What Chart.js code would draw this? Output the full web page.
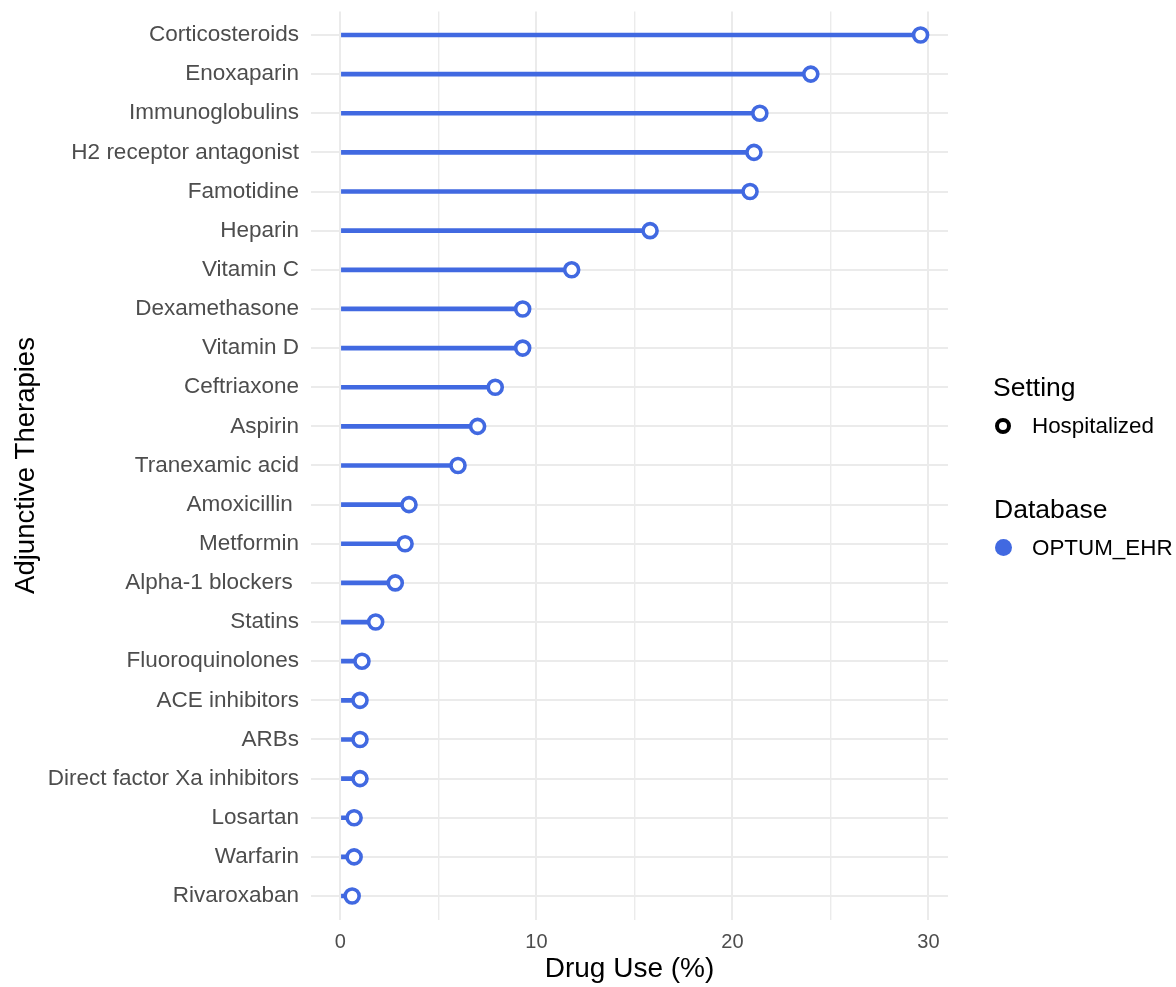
<!DOCTYPE html>
<html>
<head>
<meta charset="utf-8">
<script src="https://cdn.jsdelivr.net/npm/chart.js@4.4.1/dist/chart.umd.min.js"></script>
<style>
  html, body { margin: 0; padding: 0; background: #fff; }
  #wrap { position: relative; width: 1176px; height: 987px; }
  canvas { position: absolute; left: 0; top: 0; }
  .lg { position: absolute; font-family: "Liberation Sans", Arial, sans-serif; color: #000; white-space: nowrap; line-height: 1; }
  .lt { font-size: 26.5px; }
  .li { font-size: 22.4px; }
  .dot { position: absolute; box-sizing: border-box; border-radius: 50%; }
</style>
</head>
<body>
<div id="wrap">
  <canvas id="c" width="1176" height="987"></canvas>
  <div class="lg lt" style="left:993px; top:374px;">Setting</div>
  <div class="dot" style="left:995px; top:418px; width:16px; height:16px; border:4px solid #000; background:#fff;"></div>
  <div class="lg li" style="left:1032px; top:415px;">Hospitalized</div>
  <div class="lg lt" style="left:994px; top:496px;">Database</div>
  <div class="dot" style="left:995px; top:539px; width:17px; height:17px; background:#4169E1;"></div>
  <div class="lg li" style="left:1032px; top:537px;">OPTUM_EHR</div>
</div>
<script>
const categories = [
  "Corticosteroids", "Enoxaparin", "Immunoglobulins", "H2 receptor antagonist",
  "Famotidine", "Heparin", "Vitamin C", "Dexamethasone", "Vitamin D",
  "Ceftriaxone", "Aspirin", "Tranexamic acid", "Amoxicillin ", "Metformin",
  "Alpha-1 blockers ", "Statins", "Fluoroquinolones", "ACE inhibitors", "ARBs",
  "Direct factor Xa inhibitors", "Losartan", "Warfarin", "Rivaroxaban"
];
const drugUse = [
  29.6, 24.0, 21.4, 21.1,
  20.9, 15.8, 11.8, 9.3, 9.3,
  7.9, 7.0, 6.0, 3.5, 3.3,
  2.8, 1.8, 1.1, 1.0, 1.0,
  1.0, 0.7, 0.7, 0.6
];
const xTickValues = [0, 5, 10, 15, 20, 25, 30];
const xTickLabels = ["0", "", "10", "", "20", "", "30"];

const BLUE = "#4169E1";
const FONT = '"Liberation Sans", Arial, sans-serif';

new Chart(document.getElementById("c"), {
  type: "bar",
  data: {
    datasets: [
      {
        label: "segment",
        data: categories.map((c, i) => ({ y: i, x: [0, drugUse[i]] })),
        backgroundColor: BLUE,
        borderWidth: 0,
        barThickness: 4,
        order: 2
      },
      {
        type: "line",
        label: "Hospitalized",
        data: categories.map((c, i) => ({ y: i, x: drugUse[i] })),
        showLine: false,
        pointRadius: 7,
        pointBorderWidth: 3.6,
        pointBorderColor: BLUE,
        pointBackgroundColor: "#fff",
        order: 1
      }
    ]
  },
  options: {
    indexAxis: "y",
    responsive: false,
    animation: false,
    devicePixelRatio: 1,
    layout: { padding: { top: 11.5, right: 228, left: 0, bottom: 0 } },
    plugins: { legend: { display: false }, tooltip: { enabled: false } },
    scales: {
      x: {
        type: "linear",
        min: -1.5,
        max: 31,
        border: { display: false },
        grid: {
          color: "#EBEBEB",
          lineWidth: (ctx) => (ctx.tick && ctx.tick.value % 10 === 0 ? 2 : 1.4),
          drawTicks: false
        },
        afterBuildTicks: (s) => { s.ticks = xTickValues.map(v => ({ value: v })); },
        afterFit: (s) => { s.height = 67.5; s.paddingLeft = 0; s.paddingRight = 0; },
        ticks: {
          autoSkip: false,
          maxRotation: 0,
          padding: 11,
          color: "#4D4D4D",
          font: { family: FONT, size: 20 },
          callback: (v) => xTickLabels[xTickValues.indexOf(v)]
        },
        title: {
          display: true,
          text: "Drug Use (%)",
          color: "#000",
          font: { family: FONT, size: 28 },
          padding: { top: 0, bottom: 1 }
        }
      },
      y: {
        type: "linear",
        reverse: true,
        offset: false,
        min: -0.6,
        max: categories.length - 0.4,
        border: { display: false },
        grid: { color: "#EBEBEB", lineWidth: 2, drawTicks: false, offset: false },
        afterBuildTicks: (s) => { s.ticks = categories.map((c, i) => ({ value: i })); },
        afterFit: (s) => { s.width = 311; s.paddingTop = 0; s.paddingBottom = 0; },
        ticks: {
          autoSkip: false,
          padding: 12,
          color: "#4D4D4D",
          font: { family: FONT, size: 22.5 },
          callback: (v) => categories[v]
        },
        title: {
          display: true,
          text: "Adjunctive Therapies",
          color: "#000",
          font: { family: FONT, size: 27.5 },
          padding: { top: 10, bottom: 0 }
        }
      }
    }
  }
});
</script>
</body>
</html>
